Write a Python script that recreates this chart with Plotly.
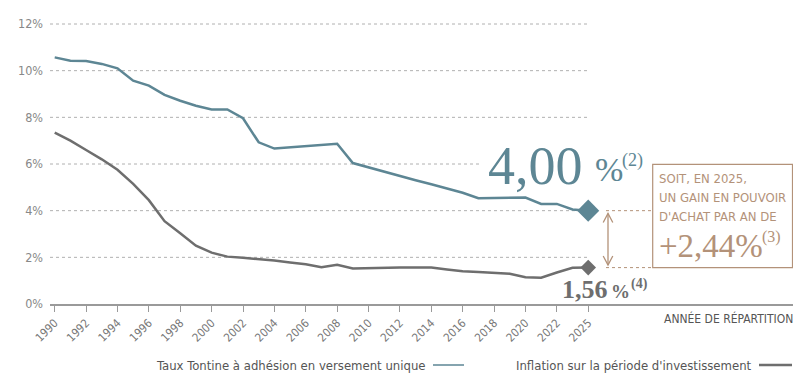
import plotly.graph_objects as go

years = [1990, 1991, 1992, 1993, 1994, 1995, 1996, 1997, 1998, 1999,
         2000, 2001, 2002, 2003, 2004, 2005, 2006, 2007, 2008, 2009,
         2010, 2011, 2012, 2013, 2014, 2015, 2016, 2017, 2018, 2019,
         2020, 2021, 2022, 2023, 2025]

tontine = [10.57, 10.43, 10.41, 10.29, 10.10, 9.57, 9.36, 8.96, 8.71, 8.50,
           8.34, 8.34, 7.96, 6.93, 6.66, 6.71, 6.76, 6.82, 6.87, 6.04,
           5.85, 5.66, 5.48, 5.30, 5.13, 4.96, 4.77, 4.53, 4.54, 4.55,
           4.56, 4.29, 4.29, 4.05, 4.00]

inflation = [7.34, 7.00, 6.60, 6.20, 5.75, 5.15, 4.45, 3.55, 3.03, 2.50,
             2.20, 2.03, 1.98, 1.93, 1.86, 1.78, 1.70, 1.58, 1.68, 1.52,
             1.54, 1.55, 1.56, 1.56, 1.56, 1.48, 1.40, 1.37, 1.35, 1.30,
             1.15, 1.13, 1.35, 1.55, 1.56]

y_ticks = [0, 2, 4, 6, 8, 10, 12]
series_names = ["Taux Tontine à adhésion en versement unique",
                "Inflation sur la période d'investissement"]

TEAL = "#5d8694"
GREY = "#6e6e6e"
TAN = "#b39279"
NARROW = "Liberation Sans Narrow, DejaVu Sans Condensed, Roboto, sans-serif"
SERIF = "Liberation Serif, DejaVu Serif, serif"

pos = list(range(len(years)))
tickvals = pos[::2]
ticktext = [str(years[i]) for i in tickvals]

# plot geometry (pixels)
W, H = 805, 385
ML, MR, MT, MB = 50, 12, 17, 81
XR = [-0.3, 47.05]
YR = [0, 12.3]
PW, PH = W - ML - MR, H - MT - MB


def px2x(px):
    return XR[0] + (px - ML) / PW * (XR[1] - XR[0])


def px2y(py):
    return YR[0] + (H - MB - py) / PH * (YR[1] - YR[0])


def px2paperx(px):
    return (px - ML) / PW


def px2papery(py):
    return (H - MB - py) / PH


fig = go.Figure()
fig.add_trace(go.Scatter(x=pos, y=tontine, mode="lines",
                         line=dict(color=TEAL, width=2.5),
                         name=series_names[0], showlegend=False))
fig.add_trace(go.Scatter(x=pos, y=inflation, mode="lines",
                         line=dict(color=GREY, width=2.5),
                         name=series_names[1], showlegend=False))
fig.add_trace(go.Scatter(x=[pos[-1]], y=[tontine[-1]], mode="markers",
                         marker=dict(symbol="diamond", size=17, color=TEAL),
                         showlegend=False))
fig.add_trace(go.Scatter(x=[pos[-1]], y=[inflation[-1]], mode="markers",
                         marker=dict(symbol="diamond", size=12, color=GREY),
                         showlegend=False))

shapes = []
# dotted gridlines
for v in y_ticks[1:]:
    x_end = px2x(480) if v == 6 else pos[-1]
    shapes.append(dict(type="line", xref="x", yref="y", x0=XR[0], x1=x_end,
                       y0=v, y1=v, line=dict(color="#b0b0b0", width=1, dash="dot"),
                       layer="below"))
# dotted tan guides to the box
for v in (tontine[-1], inflation[-1]):
    shapes.append(dict(type="line", xref="x", yref="y", x0=px2x(606), x1=px2x(652.7),
                       y0=v, y1=v, line=dict(color=TAN, width=1, dash="dot")))
# double arrow
ax = px2x(608)
top, bot = px2y(213.5), px2y(265)
shapes.append(dict(type="line", xref="x", yref="y", x0=ax, x1=ax, y0=top, y1=bot,
                   line=dict(color=TAN, width=1.3)))
dx = 4.8 * (XR[1] - XR[0]) / PW
dy = 9 * (YR[1] - YR[0]) / PH
shapes.append(dict(type="path", xref="x", yref="y",
                   path=f"M {ax-dx},{top-dy} L {ax},{top} L {ax+dx},{top-dy}",
                   line=dict(color=TAN, width=1.3)))
shapes.append(dict(type="path", xref="x", yref="y",
                   path=f"M {ax-dx},{bot+dy} L {ax},{bot} L {ax+dx},{bot+dy}",
                   line=dict(color=TAN, width=1.3)))
# box
shapes.append(dict(type="rect", xref="x", yref="y", x0=px2x(652.7), x1=px2x(792.5),
                   y0=px2y(267.7), y1=px2y(164.3), line=dict(color=TAN, width=1.2)))
# legend lines
ly = px2papery(365)
shapes.append(dict(type="line", xref="paper", yref="paper", x0=px2paperx(433),
                   x1=px2paperx(464), y0=ly, y1=ly, line=dict(color=TEAL, width=1.5)))
shapes.append(dict(type="line", xref="paper", yref="paper", x0=px2paperx(759),
                   x1=px2paperx(792), y0=ly, y1=ly, line=dict(color=GREY, width=2.5)))

ann = []
# 4,00 %(2)
ann.append(dict(x=px2x(486), y=px2y(166), xref="x", yref="y", xanchor="left",
                yanchor="middle", showarrow=False,
                text="4,00", font=dict(family=SERIF, size=54, color=TEAL)))
ann.append(dict(x=px2x(593), y=px2y(169), xref="x", yref="y", xanchor="left",
                yanchor="middle", showarrow=False,
                text="%", font=dict(family=SERIF, size=34, color=TEAL)))
ann.append(dict(x=px2x(620), y=px2y(160), xref="x", yref="y", xanchor="left",
                yanchor="middle", showarrow=False,
                text="(2)", font=dict(family=SERIF, size=18, color=TEAL)))
# 1,56 %(4)
ann.append(dict(x=px2x(560), y=px2y(289), xref="x", yref="y", xanchor="left",
                yanchor="middle", showarrow=False,
                text="<b>1,56</b>", font=dict(family=SERIF, size=26, color=GREY)))
ann.append(dict(x=px2x(609), y=px2y(291), xref="x", yref="y", xanchor="left",
                yanchor="middle", showarrow=False,
                text="<b>%</b>", font=dict(family=SERIF, size=19, color=GREY)))
ann.append(dict(x=px2x(629), y=px2y(284), xref="x", yref="y", xanchor="left",
                yanchor="middle", showarrow=False,
                text="<b>(4)</b>", font=dict(family=SERIF, size=14, color=GREY)))
# box text
for i, line in enumerate(["SOIT, EN 2025,", "UN GAIN EN POUVOIR", "D'ACHAT PAR AN DE"]):
    ann.append(dict(x=px2x(657), y=px2y(178.5 + i * 18.8), xref="x", yref="y",
                    xanchor="left", yanchor="middle", showarrow=False, text=line,
                    font=dict(family=NARROW, size=13, color=TAN)))
ann.append(dict(x=px2x(657), y=px2y(246), xref="x", yref="y", xanchor="left",
                yanchor="middle", showarrow=False, text="+2,44%",
                font=dict(family=SERIF, size=33, color=TAN)))
ann.append(dict(x=px2x(760), y=px2y(237), xref="x", yref="y", xanchor="left",
                yanchor="middle", showarrow=False, text="(3)",
                font=dict(family=SERIF, size=16, color=TAN)))
# axis title
ann.append(dict(x=px2paperx(795), y=px2papery(318), xref="paper", yref="paper",
                xanchor="right", yanchor="middle", showarrow=False,
                text="ANNÉE DE RÉPARTITION",
                font=dict(family=NARROW, size=12, color="#555555")))
# legend texts
ann.append(dict(x=px2paperx(428), y=ly, xref="paper", yref="paper", xanchor="right",
                yanchor="middle", showarrow=False, text=series_names[0],
                font=dict(family=NARROW, size=13, color="#555555")))
ann.append(dict(x=px2paperx(754), y=ly, xref="paper", yref="paper", xanchor="right",
                yanchor="middle", showarrow=False, text=series_names[1],
                font=dict(family=NARROW, size=13, color="#555555")))

fig.update_layout(
    width=W, height=H,
    margin=dict(l=ML, r=MR, t=MT, b=MB, autoexpand=False),
    paper_bgcolor="white", plot_bgcolor="white",
    shapes=shapes, annotations=ann,
    showlegend=False,
)
fig.update_xaxes(range=XR, tickvals=tickvals, ticktext=ticktext, tickangle=-45,
                 automargin=False,
                 showgrid=False, zeroline=False, showline=True, linecolor="#9a9a9a",
                 linewidth=1.5, ticks="outside", ticklen=6, tickcolor="#9a9a9a",
                 tickwidth=1.2, tickfont=dict(family=NARROW, size=11.5, color="#777777"))
fig.update_yaxes(range=YR, tickvals=y_ticks, ticktext=[f"{v}%" for v in y_ticks],
                 automargin=False, ticklabelstandoff=6,
                 showgrid=False, zeroline=False, showline=False, ticks="",
                 tickfont=dict(family=NARROW, size=12.5, color="#888888"))

fig.write_html("out.html", config={"displayModeBar": False},
               post_script="document.body.style.margin='0';document.body.style.padding='0';")
